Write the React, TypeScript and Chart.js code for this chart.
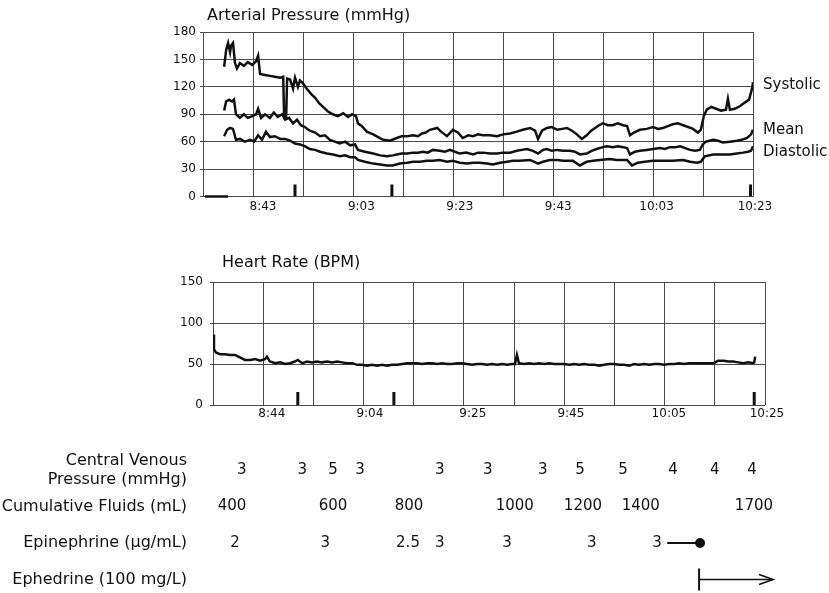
import React, { useEffect, useRef } from "react";
import { Chart, registerables } from "chart.js";

Chart.register(...registerables);

const FONT = "'DejaVu Sans', 'Liberation Sans', sans-serif";
const INK = "#111";
const GRID = "#4a4a4a";

// ---------- Arterial pressure (time = minutes after 8:00, values in mmHg) ----------
const apRange = [30.8, 142.6];
const apTickTimes = [43, 63, 83, 103, 123, 143];
const apTickLabels = ["8:43", "9:03", "9:23", "9:43", "10:03", "10:23"];
const apYTicks = [0, 30, 60, 90, 120, 150, 180];

const sysT = [35.1,35.5,35.9,36.3,36.5,36.9,37.3,37.7,38.3,39.1,39.9,40.8,41.6,42.0,42.4,43.4,44.4,45.4,46.5,47.1,47.3,47.7,47.9,48.5,49.1,49.5,50.1,50.5,51.1,51.9,52.8,53.6,54.4,55.2,56.2,57.2,58.2,59.3,60.3,61.1,61.9,62.3,63.1,64.1,65.4,66.4,67.4,68.8,70.2,71.2,72.3,73.5,74.5,75.3,76.1,76.9,78.4,79.2,80.4,81.6,82.6,83.6,84.7,85.7,86.7,87.7,89.1,90.6,91.8,93.2,94.6,95.8,97.3,98.3,98.9,99.7,100.7,101.7,102.8,103.8,104.8,105.8,106.8,107.8,108.8,109.7,110.5,111.3,112.1,113.1,114.1,115.1,116.2,117.0,117.6,118.4,119.6,121.0,122.3,123.3,124.3,125.3,126.3,127.3,128.4,129.4,130.4,131.4,132.0,132.6,133.2,134.1,135.1,136.1,137.1,137.5,137.9,138.9,140.0,141.0,141.8,142.4,142.6];
const sysV = [142,160,168,158,165,168,146,140,146,143,147,144,148,154,134,133,132,131,130,131,86,86,129,128,118,130,120,127,124,118,112,108,102,98,93,90,88,91,87,90,88,80,77,71,68,65,62,61,64,66,66,67,66,69,70,73,75,71,66,73,70,64,67,66,68,67,67,66,68,69,71,73,75,72,63,72,75,76,73,74,75,72,68,63,67,72,75,78,80,78,78,80,78,77,67,70,73,74,76,74,75,77,79,80,78,76,74,70,73,88,95,98,96,94,95,107,95,96,99,103,106,118,125];

const meanT = [35.1,35.5,36.1,36.7,37.1,37.5,38.3,39.1,39.9,40.8,41.6,42.0,42.6,43.4,44.4,45.2,46.0,46.9,47.5,48.3,49.1,49.9,50.7,51.5,52.5,53.6,54.6,55.6,56.6,57.6,58.6,59.7,60.7,61.7,62.3,63.7,65.4,66.8,68.2,69.4,70.2,71.2,72.3,73.5,74.5,75.5,76.5,77.5,78.9,80.0,81.0,82.0,83.0,84.3,85.7,86.7,87.7,89.1,90.6,91.8,93.2,94.6,95.6,96.6,97.9,98.9,99.9,100.7,101.7,102.8,104.0,105.4,106.4,107.4,108.8,109.8,110.8,112.1,112.9,114.1,115.1,116.2,117.0,117.6,118.6,119.6,121.0,122.3,123.7,124.7,125.7,126.8,127.8,128.8,129.8,130.8,131.8,132.4,133.0,134.5,135.5,136.5,137.9,139.3,140.3,141.4,142.2,142.6];
const meanV = [94,104,106,104,106,90,86,90,86,88,90,96,86,90,86,92,87,90,84,86,80,84,78,76,72,70,66,67,62,60,58,60,56,57,51,49,47,45,44,45,46,47,47,48,48,49,48,51,50,49,51,49,47,48,46,48,48,47,47,48,48,50,51,52,50,47,51,52,50,51,50,50,49,46,47,50,52,54,55,54,55,54,53,46,49,50,51,52,53,52,54,54,55,53,51,50,51,57,60,62,61,59,60,61,62,64,68,73];

const diaT = [35.1,35.7,36.3,36.9,37.5,38.3,39.3,40.4,41.2,42.0,42.8,43.6,44.4,45.4,46.5,47.5,48.5,49.5,50.5,51.5,52.5,53.6,54.6,56.0,57.2,58.6,59.7,60.7,61.7,62.3,63.7,65.4,66.8,68.2,69.4,70.8,72.3,73.5,74.9,76.3,77.5,78.9,80.4,81.6,83.0,84.5,85.7,87.1,88.5,89.7,91.2,92.6,93.8,95.2,97.3,98.9,99.9,101.3,102.8,104.0,106.0,107.4,108.8,110.1,111.5,113.5,114.9,116.2,117.0,118.0,119.2,120.6,122.3,124.3,126.3,128.4,129.8,131.2,132.0,132.8,134.5,135.9,137.9,139.3,140.6,141.6,142.2,142.6];
const diaV = [66,73,75,74,62,63,60,62,60,67,62,71,65,66,63,63,61,58,57,55,52,51,49,47,46,44,45,43,43,40,38,36,35,34,34,36,37,38,38,39,39,40,38,39,37,36,37,37,36,35,37,38,39,39,40,36,38,40,40,39,39,34,38,39,40,41,40,40,40,34,37,38,39,39,39,40,38,37,38,44,46,46,46,47,48,49,50,55];

const apEventTimes = [49.5, 69.2, 142.1];
const apEventHeight = 13;
const apStartMarkT = [31.2, 35.9];

// ---------- Heart rate ----------
const hrRange = [32, 144.6];
const hrTickTimes = [44, 64, 85, 105, 125, 145];
const hrTickLabels = ["8:44", "9:04", "9:25", "9:45", "10:05", "10:25"];
const hrYTicks = [0, 50, 100, 150];

const hrT = [32.0,32.2,32.6,33.4,34.4,35.5,36.5,37.5,38.5,39.6,40.6,41.6,42.6,43.0,43.6,44.7,45.7,46.7,47.7,48.7,49.3,50.2,51.2,52.2,53.2,54.2,55.3,56.3,57.3,58.3,59.3,60.4,61.4,62.4,63.4,64.4,65.5,66.5,67.5,68.5,69.6,70.6,71.6,72.6,73.6,74.7,75.7,76.7,77.7,78.7,79.8,80.8,81.8,82.8,83.8,84.9,85.9,86.9,87.9,88.9,90.0,91.0,92.0,93.0,93.6,94.0,94.4,95.5,96.5,97.5,98.5,99.6,100.6,101.6,102.6,103.6,104.7,105.7,106.7,107.7,108.7,109.8,110.8,111.8,112.8,113.8,114.9,115.9,116.9,117.9,118.9,120.0,121.0,122.0,123.0,124.0,125.1,126.1,127.1,128.1,129.1,130.2,131.2,132.2,133.2,134.2,135.0,136.1,137.1,138.1,139.1,140.2,141.2,142.2,142.4,142.6];
const hrV = [86,68,64,62,62,61,61,58,55,55,56,54,56,59,53,51,52,50,51,53,55,51,53,52,53,52,53,52,53,52,51,51,49,49,48,49,48,49,48,49,49,50,51,51,51,50,51,51,50,51,50,50,51,51,50,49,50,50,49,50,49,50,49,50,50,61,51,50,51,50,51,50,51,50,50,50,49,50,49,50,49,49,48,49,50,50,49,49,48,50,49,50,49,50,50,49,50,50,51,50,51,51,51,51,51,51,54,54,53,53,52,51,52,51,52,59];

const hrEventTimes = [49.3, 68.9, 142.4];
const hrEventHeight = 16;

// ---------- Table of interventions ----------
const tableRange = [26.7, 148];
const rowLabels: any[] = [
  ["Central Venous", "Pressure (mmHg)"],
  "Cumulative Fluids (mL)",
  "Epinephrine (µg/mL)",
  "Ephedrine (100 mg/L)",
];
const cvpT = [37.9, 50.2, 56.5, 62.0, 78.3, 88.1, 99.3, 106.9, 115.7, 125.9, 134.4, 142.0];
const cvpV = [3, 3, 5, 3, 3, 3, 3, 5, 5, 4, 4, 4];
const fluidT = [35.9, 56.5, 72.0, 93.6, 107.5, 119.3, 142.4];
const fluidV = [400, 600, 800, 1000, 1200, 1400, 1700];
const epiT = [36.5, 54.9, 71.8, 78.3, 92.0, 109.3, 122.6];
const epiV = ["2", "3", "2.5", "3", "3", "3", "3"];
const epiInfusionT = [124.7, 131.4];
const ephedrineT = [131.2, 146.3];

// ---------- helpers ----------
const pts = (ts: number[], vs: any[], row?: number) =>
  ts.map((t, i) => ({ x: t, y: row === undefined ? vs[i] : row }));
const eventPoints = (times: number[], h: number) =>
  times.flatMap((t) => [{ x: t, y: 0 }, { x: t, y: h }, { x: t, y: null }]);
const gridTicks = (min: number, max: number, n: number) =>
  Array.from({ length: n + 1 }, (_, i) => ({ value: min + (i * (max - min)) / n }));

const cornerTitlePlugin = {
  id: "cornerTitle",
  afterDraw(chart: any, _args: any, opts: any) {
    if (!opts || !opts.text) return;
    const ctx = chart.ctx;
    ctx.save();
    ctx.font = `16px ${FONT}`;
    ctx.fillStyle = INK;
    ctx.textAlign = "left";
    ctx.textBaseline = "alphabetic";
    ctx.fillText(opts.text, chart.chartArea.left + opts.dx, opts.y);
    ctx.restore();
  },
};

const endLabelPlugin = {
  id: "endLabel",
  afterDatasetsDraw(chart: any) {
    const ctx = chart.ctx;
    chart.data.datasets.forEach((ds: any, i: number) => {
      if (!ds.endLabel) return;
      const els = chart.getDatasetMeta(i).data;
      const last = els[els.length - 1];
      ctx.save();
      ctx.font = `15px ${FONT}`;
      ctx.fillStyle = INK;
      ctx.textAlign = "left";
      ctx.textBaseline = "middle";
      ctx.fillText(ds.endLabel, chart.chartArea.right + 10, last.y + (ds.endLabelDy || 0));
      ctx.restore();
    });
  },
};

const cellTextPlugin = {
  id: "cellText",
  afterDatasetsDraw(chart: any) {
    const ctx = chart.ctx;
    chart.data.datasets.forEach((ds: any, i: number) => {
      const els = chart.getDatasetMeta(i).data;
      ctx.save();
      ctx.fillStyle = INK;
      ctx.strokeStyle = INK;
      if (ds.texts) {
        ctx.font = `15px ${FONT}`;
        ctx.textAlign = "center";
        ctx.textBaseline = "middle";
        els.forEach((el: any, j: number) => ctx.fillText(String(ds.texts[j]), el.x, el.y));
      }
      if (ds.arrowHead) {
        const tip = els[els.length - 1];
        ctx.lineWidth = 1.6;
        ctx.beginPath();
        ctx.moveTo(tip.x - 14, tip.y - 5);
        ctx.lineTo(tip.x, tip.y);
        ctx.lineTo(tip.x - 14, tip.y + 5);
        ctx.stroke();
      }
      ctx.restore();
    });
  },
};

const traceStyle = {
  borderColor: INK,
  borderWidth: 2.5,
  pointRadius: 0,
  tension: 0,
  fill: false,
};

const baseOptions = {
  animation: false,
  responsive: false,
  devicePixelRatio: 1,
  events: [],
};

function timeAxes(range: number[], tickTimes: number[], tickLabels: string[], labelPad: number) {
  return {
    x: {
      type: "linear",
      position: "bottom",
      min: range[0],
      max: range[1],
      ticks: { display: false },
      grid: { color: GRID, lineWidth: 1, drawTicks: false },
      border: { display: false },
      afterBuildTicks: (s: any) => {
        s.ticks = gridTicks(range[0], range[1], 11);
      },
      afterFit: (s: any) => {
        s.height = 0;
      },
    },
    x2: {
      type: "linear",
      position: "bottom",
      min: range[0],
      max: range[1],
      grid: { display: false, drawTicks: false },
      border: { display: false },
      ticks: {
        autoSkip: false,
        maxRotation: 0,
        padding: labelPad,
        color: INK,
        font: { size: 12, family: FONT },
        callback: (_v: any, i: number) => tickLabels[i],
      },
      afterBuildTicks: (s: any) => {
        s.ticks = tickTimes.map((v) => ({ value: v }));
      },
      afterFit: (s: any) => {
        s.height = 20;
      },
    },
  };
}

function valueAxis(min: number, max: number, ticks: number[], width: number, pad: number) {
  return {
    type: "linear",
    min,
    max,
    afterBuildTicks: (s: any) => {
      s.ticks = ticks.map((v) => ({ value: v }));
    },
    ticks: { padding: pad, color: INK, autoSkip: false, font: { size: 12, family: FONT } },
    grid: { color: GRID, lineWidth: 1, tickLength: 3 },
    border: { display: false },
    afterFit: (s: any) => {
      s.width = width;
    },
  };
}

function pressureConfig(): any {
  return {
    type: "line",
    data: {
      datasets: [
        { ...traceStyle, label: "Systolic", data: pts(sysT, sysV), endLabel: "Systolic", endLabelDy: 3 },
        { ...traceStyle, label: "Mean", data: pts(meanT, meanV), endLabel: "Mean", endLabelDy: 0 },
        { ...traceStyle, label: "Diastolic", data: pts(diaT, diaV), endLabel: "Diastolic", endLabelDy: 6 },
        { label: "events", data: eventPoints(apEventTimes, apEventHeight), borderColor: INK, borderWidth: 3, pointRadius: 0, spanGaps: false, borderCapStyle: "butt" },
        { label: "start", data: pts(apStartMarkT, [0, 0]), borderColor: INK, borderWidth: 2.5, pointRadius: 0, clip: 10 },
      ],
    },
    options: {
      ...baseOptions,
      layout: { padding: { top: 32, right: 76, bottom: 8.5, left: 0 } },
      plugins: {
        legend: { display: false },
        tooltip: { enabled: false },
        cornerTitle: { text: "Arterial Pressure (mmHg)", dx: 4, y: 19.5 },
      },
      scales: {
        ...timeAxes(apRange, apTickTimes, apTickLabels, 3),
        y: valueAxis(0, 180, apYTicks, 203, 4),
      },
    },
    plugins: [cornerTitlePlugin, endLabelPlugin],
  };
}

function heartConfig(): any {
  return {
    type: "line",
    data: {
      datasets: [
        { ...traceStyle, label: "Heart Rate", data: pts(hrT, hrV) },
        { label: "events", data: eventPoints(hrEventTimes, hrEventHeight), borderColor: INK, borderWidth: 3, pointRadius: 0, spanGaps: false, borderCapStyle: "butt" },
      ],
    },
    options: {
      ...baseOptions,
      layout: { padding: { top: 52, right: 64, bottom: 5, left: 0 } },
      plugins: {
        legend: { display: false },
        tooltip: { enabled: false },
        cornerTitle: { text: "Heart Rate (BPM)", dx: 9, y: 36.7 },
      },
      scales: {
        ...timeAxes(hrRange, hrTickTimes, hrTickLabels, 2),
        y: valueAxis(0, 150, hrYTicks, 213, 7),
      },
    },
    plugins: [cornerTitlePlugin],
  };
}

function tableConfig(): any {
  const textSet = { showLine: false, pointRadius: 0, clip: false };
  return {
    type: "line",
    data: {
      datasets: [
        { ...textSet, label: "CVP", data: pts(cvpT, cvpV, 0), texts: cvpV },
        { ...textSet, label: "Fluids", data: pts(fluidT, fluidV, 1), texts: fluidV },
        { ...textSet, label: "Epinephrine", data: pts(epiT, epiV, 2), texts: epiV },
        {
          label: "Epinephrine infusion",
          data: pts(epiInfusionT, [], 2),
          borderColor: INK,
          borderWidth: 2,
          pointRadius: [0, 4],
          pointBackgroundColor: INK,
          pointBorderColor: INK,
          clip: false,
        },
        {
          label: "Ephedrine",
          data: pts(ephedrineT, [], 3),
          borderColor: INK,
          borderWidth: 1.6,
          pointStyle: ["line", false],
          pointRotation: 90,
          pointRadius: [11, 0],
          pointBorderWidth: 2,
          pointBorderColor: INK,
          arrowHead: true,
          clip: false,
        },
      ],
    },
    options: {
      ...baseOptions,
      layout: { padding: { top: 40, right: 47.6, bottom: 19.5, left: 0 } },
      plugins: { legend: { display: false }, tooltip: { enabled: false } },
      scales: {
        x: { type: "linear", display: false, min: tableRange[0], max: tableRange[1] },
        y: {
          type: "linear",
          reverse: true,
          min: 0,
          max: rowLabels.length - 1,
          afterBuildTicks: (s: any) => {
            s.ticks = rowLabels.map((_l, i) => ({ value: i }));
          },
          ticks: {
            padding: 0,
            autoSkip: false,
            color: INK,
            font: { size: 16, family: FONT },
            callback: (v: any) => rowLabels[v],
          },
          grid: { display: false, drawTicks: false },
          border: { display: false },
          afterFit: (s: any) => {
            s.width = 187;
          },
        },
      },
    },
    plugins: [cellTextPlugin],
  };
}

export default function App() {
  const aRef = useRef<HTMLCanvasElement | null>(null);
  const bRef = useRef<HTMLCanvasElement | null>(null);
  const cRef = useRef<HTMLCanvasElement | null>(null);

  useEffect(() => {
    Chart.defaults.font.family = FONT;
    Chart.defaults.color = INK;
    const charts = [
      new Chart(aRef.current as any, pressureConfig()),
      new Chart(bRef.current as any, heartConfig()),
      new Chart(cRef.current as any, tableConfig()),
    ];
    return () => charts.forEach((c) => c.destroy());
  }, []);

  const abs = (top: number): any => ({ position: "absolute", left: 0, top, display: "block" });

  return (
    <div style={{ position: "absolute", left: 0, top: 0, width: 829, height: 593, background: "#fff", overflow: "hidden" }}>
      <canvas ref={aRef} width={829} height={225} style={abs(0)} />
      <canvas ref={bRef} width={829} height={200} style={abs(230)} />
      <canvas ref={cRef} width={829} height={169} style={abs(430)} />
    </div>
  );
}
